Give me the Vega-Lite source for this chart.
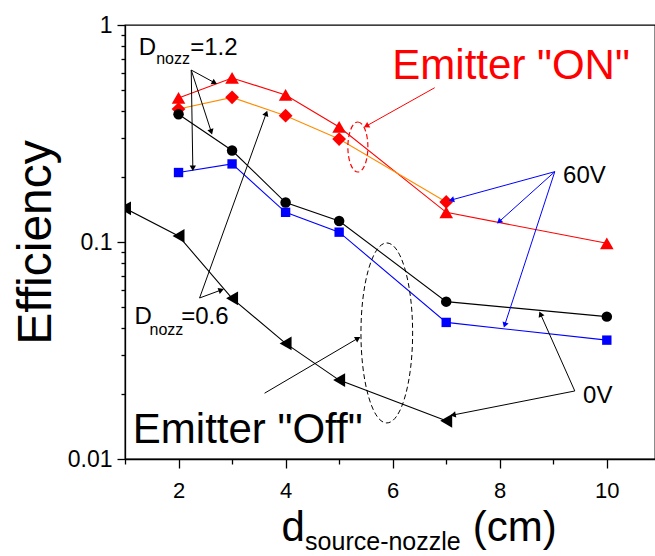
{
  "$schema": "https://vega.github.io/schema/vega-lite/v6.json",
  "width": 530,
  "height": 434,
  "autosize": {"type": "none"},
  "padding": {"left": 125, "top": 25, "right": 0, "bottom": 97},
  "config": {
    "font": "Liberation Sans",
    "view": {"stroke": "#000", "strokeWidth": 1.3},
    "axis": {"domainColor": "#000", "domainWidth": 1.3, "tickColor": "#000", "tickWidth": 1.3, "labelColor": "#000", "labelFontSize": 22, "grid": false, "titleColor": "#000"}
  },
  "datasets": {
    "series": [
      {"series": "ON tri", "x": 2, "y": 0.461}, {"series": "ON tri", "x": 3, "y": 0.57}, {"series": "ON tri", "x": 4, "y": 0.476}, {"series": "ON tri", "x": 5, "y": 0.339}, {"series": "ON tri", "x": 7, "y": 0.137}, {"series": "ON tri", "x": 10, "y": 0.0986},
      {"series": "ON dia", "x": 2, "y": 0.41}, {"series": "ON dia", "x": 3, "y": 0.464}, {"series": "ON dia", "x": 4, "y": 0.382}, {"series": "ON dia", "x": 5, "y": 0.298}, {"series": "ON dia", "x": 7, "y": 0.153},
      {"series": "0V circle", "x": 2, "y": 0.388}, {"series": "0V circle", "x": 3, "y": 0.264}, {"series": "0V circle", "x": 4, "y": 0.152}, {"series": "0V circle", "x": 5, "y": 0.125}, {"series": "0V circle", "x": 7, "y": 0.0531}, {"series": "0V circle", "x": 10, "y": 0.0453},
      {"series": "60V square", "x": 2, "y": 0.209}, {"series": "60V square", "x": 3, "y": 0.229}, {"series": "60V square", "x": 4, "y": 0.137}, {"series": "60V square", "x": 5, "y": 0.111}, {"series": "60V square", "x": 7, "y": 0.0426}, {"series": "60V square", "x": 10, "y": 0.0353},
      {"series": "OFF 0.6", "x": 1, "y": 0.143}, {"series": "OFF 0.6", "x": 2, "y": 0.1066}, {"series": "OFF 0.6", "x": 3, "y": 0.055}, {"series": "OFF 0.6", "x": 4, "y": 0.0341}, {"series": "OFF 0.6", "x": 5, "y": 0.0231}, {"series": "OFF 0.6", "x": 7, "y": 0.015}
    ],
    "arrows": [
      {"kind": "k", "x": 2.237, "y": 0.62, "x2": 2.673, "y2": 0.542, "ang": 28.6},
      {"kind": "k", "x": 2.237, "y": 0.62, "x2": 2.611, "y2": 0.322, "ang": 72},
      {"kind": "k", "x": 2.237, "y": 0.62, "x2": 2.267, "y2": 0.2186, "ang": 89},
      {"kind": "k", "x": 2.393, "y": 0.0552, "x2": 2.798, "y2": 0.0601, "ang": -20},
      {"kind": "k", "x": 2.393, "y": 0.0552, "x2": 3.639, "y2": 0.392, "ang": -70.1},
      {"kind": "on", "x": 6.785, "y": 0.514, "x2": 5.508, "y2": 0.3424, "ang": 150.7},
      {"kind": "v60", "x": 9.028, "y": 0.2109, "x2": 7.097, "y2": 0.1562, "ang": 164.7},
      {"kind": "v60", "x": 9.028, "y": 0.2109, "x2": 7.987, "y2": 0.124, "ang": 138.1},
      {"kind": "v60", "x": 9.028, "y": 0.2109, "x2": 8.093, "y2": 0.04145, "ang": 108.1},
      {"kind": "k", "x": 9.402, "y": 0.02058, "x2": 8.761, "y2": 0.04658, "ang": -114},
      {"kind": "k", "x": 9.402, "y": 0.02058, "x2": 7.127, "y2": 0.01595, "ang": 168.8},
      {"kind": "k", "x": 3.607, "y": 0.0201, "x2": 5.351, "y2": 0.036, "ang": -30.5}
    ],
    "ellipses": [
      {"group": "on", "kind": "on", "x": 5.35, "y": 0.274},
      {"group": "off", "kind": "k", "x": 5.89, "y": 0.0381}
    ],
    "labels": [
      {"text": "D", "x": 1.258, "y": 0.727, "role": "mid", "kind": "k"},
      {"text": "nozz", "x": 1.583, "y": 0.661, "role": "sub", "kind": "k"},
      {"text": "=1.2", "x": 2.219, "y": 0.727, "role": "mid", "kind": "k"},
      {"text": "D", "x": 1.178, "y": 0.04175, "role": "mid", "kind": "k"},
      {"text": "nozz", "x": 1.458, "y": 0.03728, "role": "sub", "kind": "k"},
      {"text": "=0.6", "x": 2.05, "y": 0.04175, "role": "mid", "kind": "k"},
      {"text": "Emitter \"ON\"", "x": 5.994, "y": 0.562, "role": "big", "kind": "on"},
      {"text": "60V", "x": 9.183, "y": 0.1865, "role": "mid", "kind": "k"},
      {"text": "0V", "x": 9.557, "y": 0.01805, "role": "mid", "kind": "k"},
      {"text": "Emitter \"Off\"", "x": 1.146, "y": 0.01181, "role": "big", "kind": "k"},
      {"text": "d", "x": 3.925, "y": 0.004186, "role": "big", "kind": "k"},
      {"text": "source-nozzle", "x": 4.364, "y": 0.0038, "role": "xsub", "kind": "k"},
      {"text": "(cm)", "x": 7.495, "y": 0.004186, "role": "big", "kind": "k"}
    ]
  },
  "layer": [
    {
      "data": {"name": "series"},
      "mark": {"type": "line", "strokeWidth": 1.1, "clip": true},
      "encoding": {
        "x": {"field": "x", "type": "quantitative", "scale": {"domain": [1, 10.9], "nice": false, "zero": false},
          "axis": {"values": [1, 2, 3, 4, 5, 6, 7, 8, 9, 10], "format": "d", "labelExpr": "datum.value % 2 == 0 ? datum.label : ''",
            "tickSize": {"condition": {"test": "datum.value % 2 == 0", "value": 9}, "value": 5},
            "labelPadding": 29, "labelBaseline": "alphabetic", "labelOverlap": false, "labelFlush": false, "title": null}},
        "y": {"field": "y", "type": "quantitative", "scale": {"type": "log", "domain": [0.01, 1], "nice": false},
          "axis": {"values": [0.01, 0.02, 0.03, 0.04, 0.05, 0.06, 0.07, 0.08, 0.09, 0.1, 0.2, 0.3, 0.4, 0.5, 0.6, 0.7, 0.8, 0.9, 1],
            "format": "~g", "labelExpr": "datum.value == 0.01 || datum.value == 0.1 || datum.value == 1 ? datum.label : ''",
            "tickSize": {"condition": {"test": "datum.value == 0.01 || datum.value == 0.1 || datum.value == 1", "value": 8}, "value": 4},
            "labelPadding": 5, "labelFontSize": 23, "labelBaseline": "middle", "labelOverlap": false, "labelFlush": false,
            "title": "Efficiency", "titleFontSize": 48, "titleFontWeight": "normal", "titleAngle": 270, "titleX": -75, "titleY": 217, "titleBaseline": "alphabetic", "titleAlign": "center"}},
        "stroke": {"field": "series", "type": "nominal", "scale": {"domain": ["ON tri", "ON dia", "0V circle", "60V square", "OFF 0.6"], "range": ["#ff0000", "#ff8c00", "#000000", "#0000ff", "#000000"]}, "legend": null},
        "detail": {"field": "series"}
      }
    },
    {
      "data": {"name": "series"},
      "transform": [{"filter": "datum.series == 'ON tri'"}],
      "mark": {"type": "point", "filled": true, "opacity": 1, "clip": true, "shape": "triangle-up", "size": 185, "color": "#ff0000"},
      "encoding": {
        "x": {"field": "x", "type": "quantitative", "scale": {"domain": [1, 10.9], "nice": false, "zero": false}},
        "y": {"field": "y", "type": "quantitative", "scale": {"type": "log", "domain": [0.01, 1], "nice": false}}
      }
    },
    {
      "data": {"name": "series"},
      "transform": [{"filter": "datum.series == 'ON dia'"}],
      "mark": {"type": "point", "filled": true, "opacity": 1, "clip": true, "shape": "diamond", "size": 190, "color": "#ff0000"},
      "encoding": {
        "x": {"field": "x", "type": "quantitative", "scale": {"domain": [1, 10.9], "nice": false, "zero": false}},
        "y": {"field": "y", "type": "quantitative", "scale": {"type": "log", "domain": [0.01, 1], "nice": false}}
      }
    },
    {
      "data": {"name": "series"},
      "transform": [{"filter": "datum.series == '0V circle'"}],
      "mark": {"type": "point", "filled": true, "opacity": 1, "clip": true, "shape": "circle", "size": 110, "color": "#000000"},
      "encoding": {
        "x": {"field": "x", "type": "quantitative", "scale": {"domain": [1, 10.9], "nice": false, "zero": false}},
        "y": {"field": "y", "type": "quantitative", "scale": {"type": "log", "domain": [0.01, 1], "nice": false}}
      }
    },
    {
      "data": {"name": "series"},
      "transform": [{"filter": "datum.series == '60V square'"}],
      "mark": {"type": "point", "filled": true, "opacity": 1, "clip": true, "shape": "square", "size": 88, "color": "#0000ff"},
      "encoding": {
        "x": {"field": "x", "type": "quantitative", "scale": {"domain": [1, 10.9], "nice": false, "zero": false}},
        "y": {"field": "y", "type": "quantitative", "scale": {"type": "log", "domain": [0.01, 1], "nice": false}}
      }
    },
    {
      "data": {"name": "series"},
      "transform": [{"filter": "datum.series == 'OFF 0.6'"}],
      "mark": {"type": "point", "filled": true, "opacity": 1, "clip": true, "shape": "triangle-left", "size": 190, "color": "#000000"},
      "encoding": {
        "x": {"field": "x", "type": "quantitative", "scale": {"domain": [1, 10.9], "nice": false, "zero": false}},
        "y": {"field": "y", "type": "quantitative", "scale": {"type": "log", "domain": [0.01, 1], "nice": false}}
      }
    },
    {
      "data": {"name": "arrows"},
      "mark": {"type": "rule", "strokeWidth": 1},
      "encoding": {
        "x": {"field": "x", "type": "quantitative", "scale": {"domain": [1, 10.9], "nice": false, "zero": false}},
        "y": {"field": "y", "type": "quantitative", "scale": {"type": "log", "domain": [0.01, 1], "nice": false}},
        "x2": {"field": "x2"},
        "y2": {"field": "y2"},
        "color": {"field": "kind", "type": "nominal", "scale": {"domain": ["on", "v60", "k"], "range": ["#ff0000", "#0000ff", "#000000"]}, "legend": null}
      }
    },
    {
      "data": {"name": "arrows"},
      "mark": {"type": "point", "filled": true, "opacity": 1, "shape": "triangle-right", "size": 40},
      "encoding": {
        "x": {"field": "x2", "type": "quantitative", "scale": {"domain": [1, 10.9], "nice": false, "zero": false}},
        "y": {"field": "y2", "type": "quantitative", "scale": {"type": "log", "domain": [0.01, 1], "nice": false}},
        "angle": {"field": "ang", "type": "quantitative", "scale": null},
        "color": {"field": "kind", "type": "nominal", "scale": {"domain": ["on", "v60", "k"], "range": ["#ff0000", "#0000ff", "#000000"]}, "legend": null}
      }
    },
    {
      "data": {"name": "ellipses"},
      "transform": [{"filter": "datum.group == 'on'"}],
      "mark": {"type": "point", "filled": false, "opacity": 1, "strokeWidth": 1.2, "strokeDash": [5, 3], "shape": "M0,-1A0.4,1,0,1,1,0,1A0.4,1,0,1,1,0,-1Z", "size": 2500},
      "encoding": {
        "x": {"field": "x", "type": "quantitative", "scale": {"domain": [1, 10.9], "nice": false, "zero": false}},
        "y": {"field": "y", "type": "quantitative", "scale": {"type": "log", "domain": [0.01, 1], "nice": false}},
        "color": {"field": "kind", "type": "nominal", "scale": {"domain": ["on", "v60", "k"], "range": ["#ff0000", "#0000ff", "#000000"]}, "legend": null}
      }
    },
    {
      "data": {"name": "ellipses"},
      "transform": [{"filter": "datum.group == 'off'"}],
      "mark": {"type": "point", "filled": false, "opacity": 1, "strokeWidth": 1, "strokeDash": [5, 3], "shape": "M0,-1A0.287,1,0,1,1,0,1A0.287,1,0,1,1,0,-1Z", "size": 32400},
      "encoding": {
        "x": {"field": "x", "type": "quantitative", "scale": {"domain": [1, 10.9], "nice": false, "zero": false}},
        "y": {"field": "y", "type": "quantitative", "scale": {"type": "log", "domain": [0.01, 1], "nice": false}},
        "color": {"field": "kind", "type": "nominal", "scale": {"domain": ["on", "v60", "k"], "range": ["#ff0000", "#0000ff", "#000000"]}, "legend": null}
      }
    },
    {
      "data": {"name": "labels"},
      "transform": [{"filter": "datum.role == 'big'"}],
      "mark": {"type": "text", "align": "left", "baseline": "alphabetic", "fontSize": 42},
      "encoding": {
        "x": {"field": "x", "type": "quantitative", "scale": {"domain": [1, 10.9], "nice": false, "zero": false}},
        "y": {"field": "y", "type": "quantitative", "scale": {"type": "log", "domain": [0.01, 1], "nice": false}},
        "text": {"field": "text"},
        "color": {"field": "kind", "type": "nominal", "scale": {"domain": ["on", "v60", "k"], "range": ["#ff0000", "#0000ff", "#000000"]}, "legend": null}
      }
    },
    {
      "data": {"name": "labels"},
      "transform": [{"filter": "datum.role == 'mid'"}],
      "mark": {"type": "text", "align": "left", "baseline": "alphabetic", "fontSize": 24},
      "encoding": {
        "x": {"field": "x", "type": "quantitative", "scale": {"domain": [1, 10.9], "nice": false, "zero": false}},
        "y": {"field": "y", "type": "quantitative", "scale": {"type": "log", "domain": [0.01, 1], "nice": false}},
        "text": {"field": "text"},
        "color": {"field": "kind", "type": "nominal", "scale": {"domain": ["on", "v60", "k"], "range": ["#ff0000", "#0000ff", "#000000"]}, "legend": null}
      }
    },
    {
      "data": {"name": "labels"},
      "transform": [{"filter": "datum.role == 'sub'"}],
      "mark": {"type": "text", "align": "left", "baseline": "alphabetic", "fontSize": 16},
      "encoding": {
        "x": {"field": "x", "type": "quantitative", "scale": {"domain": [1, 10.9], "nice": false, "zero": false}},
        "y": {"field": "y", "type": "quantitative", "scale": {"type": "log", "domain": [0.01, 1], "nice": false}},
        "text": {"field": "text"},
        "color": {"field": "kind", "type": "nominal", "scale": {"domain": ["on", "v60", "k"], "range": ["#ff0000", "#0000ff", "#000000"]}, "legend": null}
      }
    },
    {
      "data": {"name": "labels"},
      "transform": [{"filter": "datum.role == 'xsub'"}],
      "mark": {"type": "text", "align": "left", "baseline": "alphabetic", "fontSize": 25},
      "encoding": {
        "x": {"field": "x", "type": "quantitative", "scale": {"domain": [1, 10.9], "nice": false, "zero": false}},
        "y": {"field": "y", "type": "quantitative", "scale": {"type": "log", "domain": [0.01, 1], "nice": false}},
        "text": {"field": "text"},
        "color": {"field": "kind", "type": "nominal", "scale": {"domain": ["on", "v60", "k"], "range": ["#ff0000", "#0000ff", "#000000"]}, "legend": null}
      }
    }
  ]
}
